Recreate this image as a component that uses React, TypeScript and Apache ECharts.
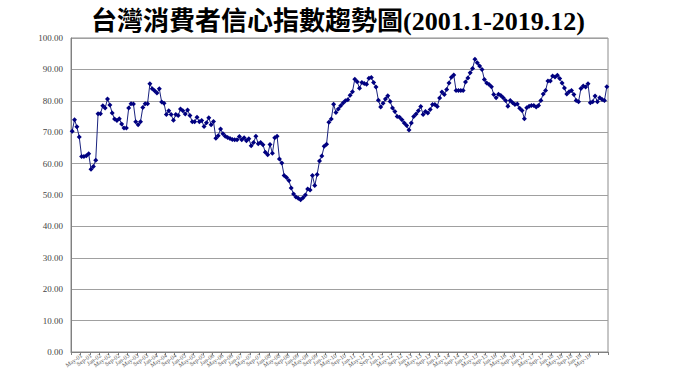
import React, { useEffect, useRef } from "react";
import * as echarts from "echarts";

const TITLE = "台灣消費者信心指數趨勢圖(2001.1-2019.12)";
const MONTH_NAMES = ["Jan", "Feb", "Mar", "Apr", "May", "Jun", "Jul", "Aug", "Sep", "Oct", "Nov", "Dec"];
const START_YEAR = 2001;
const END_YEAR = 2019;
const Y_TICKS = [0, 10, 20, 30, 40, 50, 60, 70, 80, 90, 100];

const values2001_2004 = [
  70.3, 74.0, 71.7, 68.5, 62.3, 62.3, 62.5, 63.1, 58.2, 59.1, 61.1, 75.9,
  75.9, 78.4, 77.7, 80.6, 78.7, 76.1, 74.2, 73.7, 74.3, 72.6, 71.3, 71.3,
  77.7, 79.1, 79.0, 73.3, 72.4, 73.3, 77.9, 79.1, 79.1, 85.4, 83.8, 83.2,
  82.5, 83.8, 79.6, 79.2, 75.6, 76.8, 75.6, 73.8, 75.6, 75.3, 77.4, 76.8,
];
const values2005_2008 = [
  75.8, 77.1, 75.3, 73.3, 73.3, 74.8, 73.3, 73.7, 71.8, 73.0, 74.6, 72.4,
  73.4, 68.1, 68.9, 71.0, 69.5, 68.7, 68.3, 68.0, 67.7, 67.6, 67.6, 68.6,
  67.6, 68.2, 67.3, 67.9, 65.7, 66.7, 68.7, 66.3, 66.7, 66.0, 63.6, 62.8,
  66.1, 63.3, 68.2, 68.7, 61.5, 60.2, 56.2, 55.6, 54.6, 52.2, 50.3, 49.4,
];
const values2009_2012 = [
  49.0, 48.5, 49.1, 50.0, 51.9, 51.6, 56.2, 53.0, 56.5, 60.8, 62.4, 65.5,
  66.2, 73.2, 74.2, 78.9, 76.3, 77.4, 78.4, 79.3, 80.0, 80.3, 81.8, 82.9,
  86.9, 86.1, 84.0, 85.8, 85.5, 85.3, 87.2, 87.4, 85.8, 84.4, 80.2, 78.0,
  79.2, 80.6, 81.6, 79.8, 77.7, 76.6, 75.0, 74.8, 74.0, 72.9, 72.1, 70.7,
];
const values2013_2016 = [
  72.9, 75.0, 75.8, 76.8, 78.2, 75.6, 76.6, 76.1, 77.2, 78.8, 78.8, 78.2,
  80.9, 82.8, 82.0, 83.6, 85.7, 87.5, 88.2, 83.3, 83.3, 83.3, 83.3, 86.0,
  87.3, 88.9, 90.3, 93.2, 92.1, 91.1, 90.0, 86.8, 85.7, 85.2, 84.5, 82.0,
  81.0, 82.1, 81.7, 81.0, 80.1, 78.3, 80.1, 79.4, 78.8, 79.0, 77.6, 76.9,
];
const values2017_2019 = [
  74.3, 77.8, 78.3, 78.5, 78.5, 78.0, 78.5, 80.1, 82.2, 83.3, 86.3, 86.3,
  87.9, 87.6, 88.1, 87.1, 85.7, 84.1, 82.2, 82.9, 83.3, 82.0, 80.1, 79.7,
  83.9, 84.7, 84.4, 85.4, 79.4, 79.7, 81.5, 79.7, 81.0, 80.4, 80.1, 84.5,
];

const values = [
  ...values2001_2004,
  ...values2005_2008,
  ...values2009_2012,
  ...values2013_2016,
  ...values2017_2019,
];

const categories: string[] = [];
for (let y = START_YEAR; y <= END_YEAR; y++) {
  for (let m = 0; m < 12; m++) {
    categories.push(MONTH_NAMES[m] + "-" + String(y % 100).padStart(2, "0"));
  }
}

export default function App() {
  const ref = useRef<HTMLDivElement>(null);
  useEffect(() => {
    if (!ref.current) return;
    const chart = echarts.init(ref.current, null, { renderer: "svg" });
    chart.setOption({
      animation: false,
      backgroundColor: "#ffffff",
      title: {
        text: TITLE,
        left: 86,
        top: 3,
        textStyle: {
          fontFamily: "'Liberation Serif', 'Noto Sans CJK TC', serif",
          fontWeight: "bold",
          fontSize: 26,
          color: "#000000",
        },
      },
      grid: {
        left: 71,
        right: 72,
        top: 38,
        bottom: 31,
        show: true,
        borderColor: "#8c8c8c",
        borderWidth: 1,
      },
      xAxis: {
        type: "category",
        data: categories,
        boundaryGap: true,
        axisLine: { lineStyle: { color: "#808080", width: 1 } },
        axisTick: { show: true, interval: 3, length: 3, lineStyle: { color: "#808080" } },
        axisLabel: {
          interval: 3,
          rotate: 35,
          fontSize: 6,
          margin: 3,
          color: "#555555",
          fontFamily: "'Liberation Serif', serif",
        },
        splitLine: { show: false },
      },
      yAxis: {
        type: "value",
        min: Y_TICKS[0],
        max: Y_TICKS[Y_TICKS.length - 1],
        interval: Y_TICKS[1] - Y_TICKS[0],
        axisLine: { show: true, lineStyle: { color: "#808080", width: 1 } },
        axisTick: { show: false },
        axisLabel: {
          formatter: (v: number) => v.toFixed(2),
          fontSize: 9,
          margin: 8,
          color: "#444444",
          fontFamily: "'Liberation Serif', serif",
        },
        splitLine: { show: true, lineStyle: { color: "#a0a0a0", width: 1 } },
      },
      series: [
        {
          type: "line",
          data: values,
          symbol: "diamond",
          symbolSize: 5,
          showSymbol: true,
          showAllSymbol: true,
          lineStyle: { color: "#1a237e", width: 1 },
          itemStyle: { color: "#000080" },
        },
      ],
    });
    return () => chart.dispose();
  }, []);
  return (
    <div
      ref={ref}
      style={{ position: "fixed", left: 0, top: 0, width: 680, height: 383 }}
    />
  );
}
